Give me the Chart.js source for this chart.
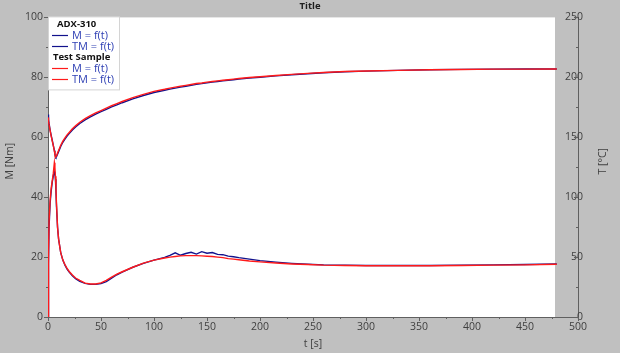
<!DOCTYPE html>
<html><head><meta charset="utf-8">
<script src="https://cdn.jsdelivr.net/npm/chart.js@4.4.1/dist/chart.umd.min.js"></script>
<style>html,body{margin:0;padding:0;background:#c0c0c0;}#wrap{width:620px;height:353px;position:relative;}</style>
</head><body><div id="wrap"><canvas id="c"></canvas></div>
<script>
// ---- data ----
const timeS = [0,0.5,1,2,3,4,5,6,6.5,7,7.5,8,9,10,12,14,16,18,20,23,26,30,35,40,45,50,55,60,65,70,80,90,100,110,115,120,125,130,135,140,145,150,155,160,165,170,175,180,190,200,215,230,245,260,280,300,330,360,390,420,450,480];

// ADX-310 (reference) torque M [Nm]
const refTorque = [0,18,30,38,42,45,47,48.5,48,46,42,37,30,26,21.5,19,17.3,16,15,13.8,12.8,11.9,11.2,10.9,10.9,11.2,11.8,13,14.1,15,16.6,17.9,19,19.9,20.6,21.4,20.6,21.2,21.6,21,21.8,21.3,21.5,20.9,20.8,20.3,20.1,19.8,19.3,18.8,18.3,17.9,17.6,17.4,17.3,17.2,17.2,17.2,17.3,17.4,17.5,17.7];
// ADX-310 (reference) temperature TM [°C]
const refTemp = [169,165,161.5,156,151.5,147.5,143.3,139,136,134,133.3,133.8,135.8,138,142.3,145.8,148.5,151,153,156,158.5,161.5,164.5,167,169.3,171.3,173.3,175.3,177,178.8,182,184.8,187.3,189.2,190.2,191,191.8,192.6,193.3,194.1,194.7,195.4,196,196.5,197,197.5,198,198.5,199.4,200.1,201.2,202.2,203,203.8,204.6,205.2,205.8,206.3,206.6,206.8,206.9,207];

// Test Sample torque M [Nm]
const sampleTorque = [0,22,32,39,43,45.5,48,51.5,50,47,43,38,30,26,21.5,19,17.5,16.2,15.2,14,13,12.2,11.3,11,11,11.4,12.2,13.3,14.3,15.1,16.6,18,19,19.7,20,20.2,20.4,20.5,20.5,20.5,20.4,20.3,20.2,20,19.8,19.5,19.3,19.1,18.7,18.4,18,17.7,17.5,17.3,17.2,17.1,17.1,17.1,17.2,17.3,17.4,17.6];
// Test Sample temperature TM [°C]
const sampleTemp = [166.5,163.5,160.5,155.5,151,147,143,138.5,135.5,133.5,133.5,134.5,136.8,139,143.3,146.8,149.5,152,154,157,159.5,162.5,165.5,168,170.3,172.3,174.3,176.3,178,179.8,183,185.8,188.3,190,191,191.8,192.5,193.3,194,194.8,195.3,196,196.5,197,197.5,198,198.5,199,199.8,200.5,201.5,202.5,203.3,204,204.8,205.3,205.8,206.3,206.5,206.8,206.8,207];

const groupNames = ['ADX-310', 'Test Sample'];
const seriesNames = ['M = f(t)', 'TM = f(t)'];
const chartTitle = 'Title';
const xTitle = 't [s]';
const yTitle = 'M [Nm]';
const y2Title = 'T [°C]';
const xRange = [0, 500], yRange = [0, 100], y2Range = [0, 250];
const xSteps = [50, 25], ySteps = [20, 10], y2Steps = [50, 25];

// ---- styling ----
const FONT = "'Open Sans', 'DejaVu Sans', sans-serif";
const TXT = '#404040';
const AX = '#606060';
const BLUE = '#12128c';
const RED = '#ff1a1a';

function pts(arr){ return timeS.map((t,i)=>({x:t,y:arr[i]})); }

const datasets = [
  {label: seriesNames[0], group: groupNames[1], data: pts(sampleTorque), yAxisID:'y', borderColor: RED},
  {label: seriesNames[1], group: groupNames[1], data: pts(sampleTemp), yAxisID:'y2', borderColor: RED},
  {label: seriesNames[0], group: groupNames[0], data: pts(refTorque), yAxisID:'y', borderColor: BLUE},
  {label: seriesNames[1], group: groupNames[0], data: pts(refTemp), yAxisID:'y2', borderColor: BLUE},
].map(d=>Object.assign(d,{borderWidth:1.4, pointRadius:0, tension:0, fill:false}));

const bgPlugin = {
  id:'bg',
  beforeDraw(chart){
    const {ctx, chartArea:a} = chart;
    ctx.save(); ctx.fillStyle='#ffffff';
    ctx.fillRect(a.left, a.top, a.right - a.left - 23, a.bottom - a.top);
    ctx.restore();
  }
};

const tickPlugin = {
  id:'minorTicks',
  afterDraw(chart){
    const ctx = chart.ctx, {x, y, y2} = chart.scales;
    ctx.save(); ctx.strokeStyle = AX; ctx.lineWidth = 1;
    const seg=(a,b,c,d)=>{ctx.beginPath();ctx.moveTo(a,b);ctx.lineTo(c,d);ctx.stroke();};
    for(let v=xRange[0]; v<=xRange[1]; v+=xSteps[1]){
      const p=Math.round(x.getPixelForValue(v))+0.5, l=v%xSteps[0]===0?4:2;
      seg(p, x.top, p, x.top+l);
    }
    for(let v=yRange[0]; v<=yRange[1]; v+=ySteps[1]){
      const p=Math.round(y.getPixelForValue(v))+0.5, l=v%ySteps[0]===0?4:2;
      seg(y.right-l, p, y.right, p);
    }
    for(let v=y2Range[0]; v<=y2Range[1]; v+=y2Steps[1]){
      const p=Math.round(y2.getPixelForValue(v))+0.5, l=v%y2Steps[0]===0?4:2;
      seg(y2.left-l, p, y2.left, p);
    }
    // vertical axis titles
    const a = chart.chartArea;
    ctx.fillStyle = TXT; ctx.font = "10.5px " + FONT; ctx.textAlign='center'; ctx.textBaseline='middle';
    const cy = (a.top + a.bottom)/2 - 6;
    ctx.save(); ctx.translate(10, cy); ctx.rotate(-Math.PI/2); ctx.fillText(yTitle,0,0); ctx.restore();
    ctx.save(); ctx.translate(603, cy); ctx.rotate(-Math.PI/2); ctx.fillText(y2Title,0,0); ctx.restore();
    ctx.restore();
  }
};

const legendPlugin = {
  id:'groupLegend',
  afterDraw(chart){
    const ctx = chart.ctx, a = chart.chartArea;
    const x0 = a.left, y0 = a.top - 1;
    ctx.save();
    ctx.fillStyle='#ffffff'; ctx.fillRect(x0+0.5, y0+0.5, 71, 73);
    ctx.strokeStyle='#d4d4d4'; ctx.lineWidth=1; ctx.strokeRect(x0+0.5, y0+0.5, 71, 73);
    let yy = y0 + 8;
    ctx.textBaseline='middle'; ctx.textAlign='left';
    groupNames.forEach((g, gi)=>{
      ctx.fillStyle='#111111'; ctx.font = "bold 9.5px " + FONT;
      ctx.fillText(g, x0 + (gi===0?9:5), yy);
      yy += 11;
      chart.data.datasets.filter(d=>d.group===g).forEach(d=>{
        ctx.strokeStyle=d.borderColor; ctx.lineWidth=1.2;
        ctx.beginPath(); ctx.moveTo(x0+4, Math.round(yy)+0.5); ctx.lineTo(x0+20, Math.round(yy)+0.5); ctx.stroke();
        ctx.fillStyle='#2f40b4'; ctx.font = "11px " + FONT;
        ctx.fillText(d.label, x0+24, yy);
        yy += 11;
      });
    });
    ctx.restore();
  }
};

new Chart(document.getElementById('c'), {
  type:'line',
  data:{datasets},
  plugins:[bgPlugin, tickPlugin, legendPlugin],
  options:{
    responsive:true, maintainAspectRatio:false, animation:false,
    layout:{padding:0},
    plugins:{
      legend:{display:false}, tooltip:{enabled:false},
      title:{display:true, text:chartTitle, color:'#202020', font:{family:FONT, size:9.5, weight:'bold'}, padding:{top:1,bottom:5}}
    },
    scales:{
      x:{type:'linear', min:xRange[0], max:xRange[1],
         grid:{display:false, drawTicks:true, tickLength:4},
         border:{display:true, color:AX, width:1},
         ticks:{stepSize:xSteps[0], autoSkip:false, maxRotation:0, color:TXT, padding:0, font:{family:FONT, size:10.5}},
         title:{display:true, text:xTitle, color:TXT, font:{family:FONT, size:10.5}, padding:{top:0,bottom:3}},
         afterFit(s){ s.height = 36; }},
      y:{type:'linear', position:'left', min:yRange[0], max:yRange[1],
         grid:{display:false, drawTicks:true, tickLength:4},
         border:{display:true, color:AX, width:1},
         ticks:{stepSize:ySteps[0], color:TXT, padding:1, font:{family:FONT, size:10.5}},
         afterFit(s){ s.width = 48; }},
      y2:{type:'linear', position:'right', min:y2Range[0], max:y2Range[1],
         grid:{display:false, drawTicks:true, tickLength:4},
         border:{display:true, color:AX, width:1},
         ticks:{stepSize:y2Steps[0], mirror:true, color:TXT, padding:5, font:{family:FONT, size:10.5}},
         afterFit(s){ s.width = 42; }}
    }
  }
});
</script></body></html>
